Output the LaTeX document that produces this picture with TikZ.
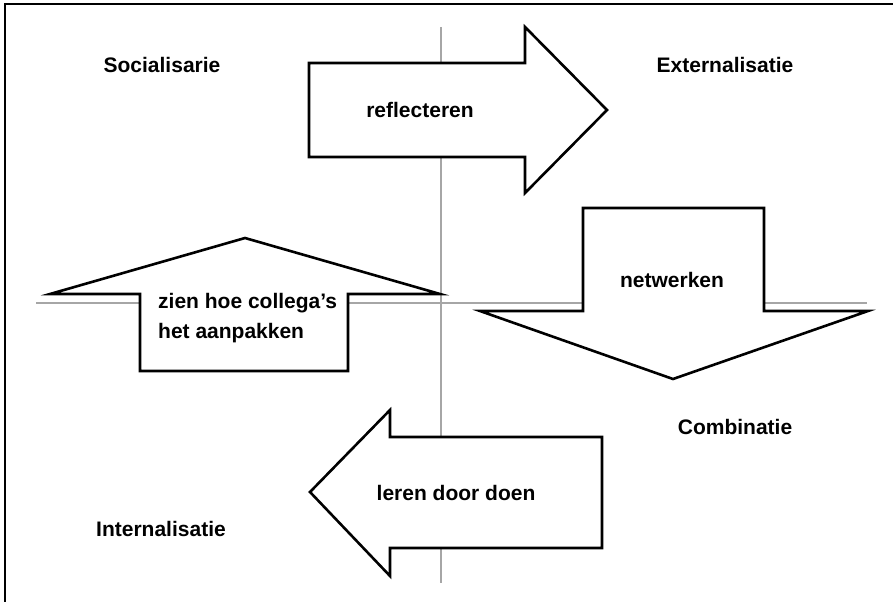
\documentclass[tikz,border=0pt]{standalone}
\usepackage{fontspec}
\setmainfont{Liberation Sans}
\usetikzlibrary{positioning}
\tikzstyle{quadrant} = [font=\bfseries\fontsize{21}{30}\selectfont, inner sep=0pt]
\tikzstyle{arrowtext} = [font=\bfseries\fontsize{21}{30}\selectfont, inner sep=0pt, align=left]
\tikzstyle{blockarrow} = [draw=black, line width=2.6pt, fill=white, line join=miter]
\tikzstyle{axisline} = [draw=black!35, line width=1.2pt]

\begin{document}
\begin{tikzpicture}[x=1pt, y=-1pt]
\useasboundingbox (0,0) rectangle (893,602);
% frame (top and left only)
\draw[line width=2.6pt] (893,4) -- (5,4) -- (5,602);
% axes
\coordinate (ytop) at (441,27);
\coordinate (ybot) at (441,583);
\coordinate (xleft) at (36,303);
\coordinate (xright) at (867,303);
\draw[axisline] (ytop) -- (ybot);
\draw[axisline] (xleft) -- (xright);

% block arrows
\draw[blockarrow] (309,63) -- (525,63) -- (525,27) -- (607,110) -- (525,193) -- (525,157) -- (309,157) -- cycle;
\draw[blockarrow] (140,371) -- (140,294) -- (50,294) -- (245,238) -- (440,294) -- (348,294) -- (348,371) -- cycle;
\draw[blockarrow] (583,208) -- (764,208) -- (764,311) -- (868,311) -- (673,379) -- (480,311) -- (583,311) -- cycle;
\draw[blockarrow] (602,437) -- (390,437) -- (390,410) -- (310,492) -- (390,576) -- (390,548) -- (602,548) -- cycle;

% arrow labels
\node[arrowtext] (reflect) at (420,110) {reflecteren};
\node[arrowtext, anchor=west] (zien) at (158,318) {zien hoe collega’s\\het aanpakken};
\node[arrowtext] (netwerk) at (672,280) {netwerken};
\node[arrowtext] (doen) at (456,493) {leren door doen};

% quadrant labels
\node[quadrant] (soc) at (162,65) {Socialisarie};
\node[quadrant] (ext) at (725,65) {Externalisatie};
\node[quadrant] (comb) at (735,427) {Combinatie};
\node[quadrant] (intern) at (161,529) {Internalisatie};
\end{tikzpicture}
\end{document}
